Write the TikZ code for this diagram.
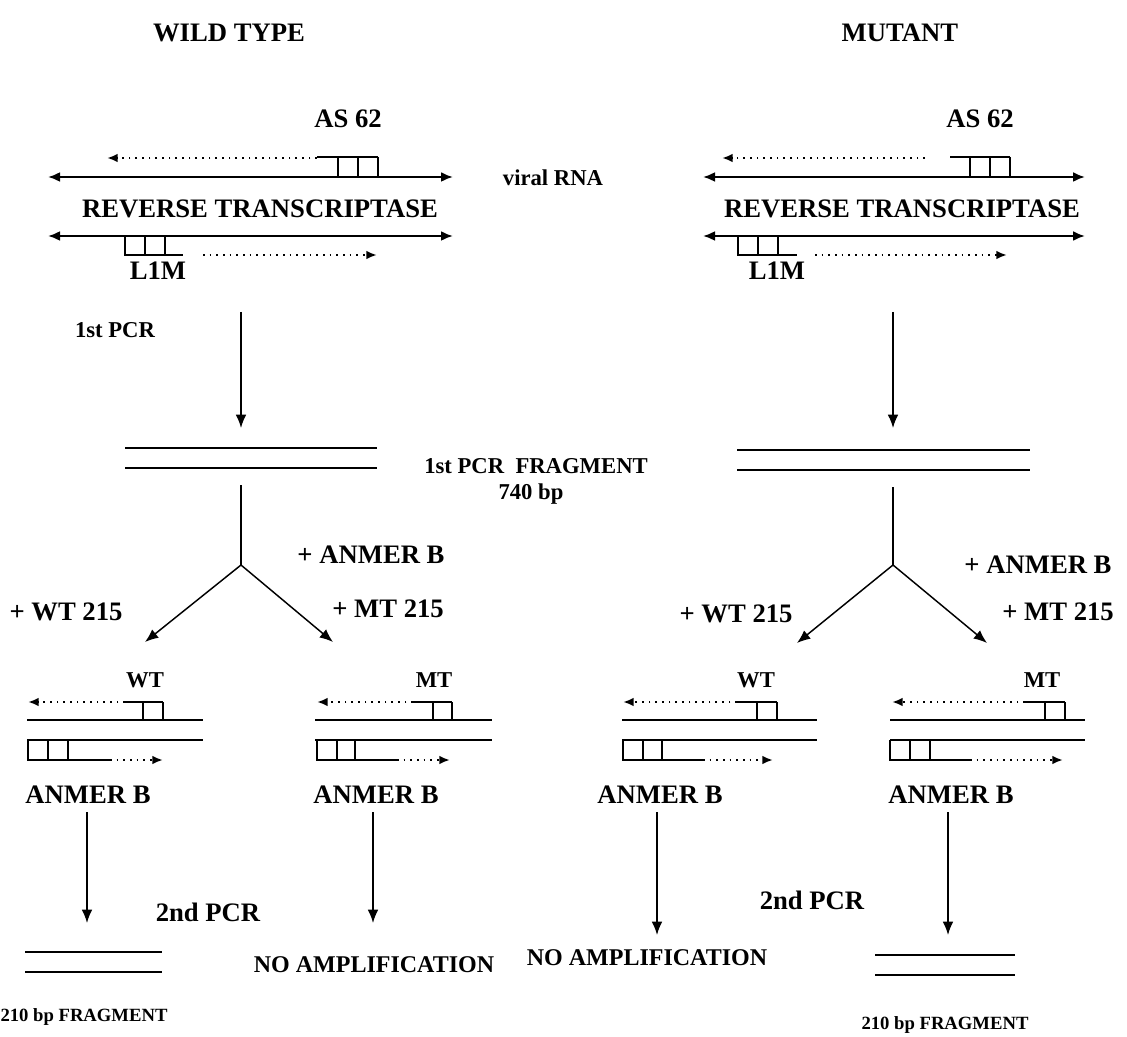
\documentclass[tikz,border=0pt]{standalone}
\usepackage{fontspec}
\setmainfont{Liberation Serif}
\usetikzlibrary{arrows.meta}
\begin{document}
\begin{tikzpicture}[x=0.75pt,y=-0.75pt,
  lbl/.style={font=\fontsize{20}{23}\selectfont\bfseries, inner sep=0pt},
  mid/.style={font=\fontsize{17}{20}\selectfont\bfseries, inner sep=0pt},
  sml/.style={font=\fontsize{14}{17}\selectfont\bfseries, inner sep=0pt},
  dstrand/.style={line width=1.7pt, {Latex[length=9pt,width=7.5pt]}-{Latex[length=9pt,width=7.5pt]}},
  strand/.style={line width=1.7pt},
  primer/.style={line width=1.7pt},
  dots/.style={line width=1.6pt, dash pattern=on 1.3pt off 3.7pt, -{Latex[length=8pt,width=6.5pt]}},
  flow/.style={line width=1.1pt, -{Latex[length=10pt,width=8pt]}},
  split/.style={line width=1.3pt}
]
\useasboundingbox (0,0) rectangle (1127,1037);

% titles
\node[lbl] (wtt) at (229,33) {WILD TYPE};
\node[lbl] (mutt) at (900,33) {MUTANT};

% ---------- top, wild type ----------
\node[lbl] (asA) at (348,119) {AS 62};
\coordinate (tAl) at (48,177); \coordinate (tAr) at (453,177);
\draw[dstrand] (tAl) -- (tAr);
\draw[primer] (317,157) -- (378,157) (338,157) -- (338,177) (358,157) -- (358,177) (378,157) -- (378,177);
\draw[dots] (317,158) -- (107,158);
\node[lbl] (rtA) at (260,209) {REVERSE TRANSCRIPTASE};
\coordinate (bAl) at (48,236); \coordinate (bAr) at (453,236);
\draw[dstrand] (bAl) -- (bAr);
\draw[primer] (125,236) -- (125,255) -- (183,255) (145,236) -- (145,255) (165,236) -- (165,255);
\draw[dots] (203,255) -- (377,255);
\node[lbl] (lmA) at (158,271) {L1M};

% ---------- top, mutant ----------
\node[lbl] (asB) at (980,119) {AS 62};
\coordinate (tBl) at (703,177); \coordinate (tBr) at (1085,177);
\draw[dstrand] (tBl) -- (tBr);
\draw[primer] (950,157) -- (1010,157) (970,157) -- (970,177) (990,157) -- (990,177) (1010,157) -- (1010,177);
\draw[dots] (925,158) -- (722,158);
\node[lbl] (rtB) at (902,209) {REVERSE TRANSCRIPTASE};
\coordinate (bBl) at (703,236); \coordinate (bBr) at (1085,236);
\draw[dstrand] (bBl) -- (bBr);
\draw[primer] (738,236) -- (738,255) -- (797,255) (758,236) -- (758,255) (778,236) -- (778,255);
\draw[dots] (815,255) -- (1007,255);
\node[lbl] (lmB) at (777,271) {L1M};

\node[mid] (rna) at (553,178) {viral RNA};

% ---------- 1st PCR ----------
\node[mid] (pcrA) at (115,330) {1st PCR};
\coordinate (aAs) at (241,312); \coordinate (aAe) at (241,428);
\draw[flow] (aAs) -- (aAe);
\coordinate (aBs) at (893,312); \coordinate (aBe) at (893,428);
\draw[flow] (aBs) -- (aBe);

\draw[strand] (125,448) -- (377,448) (125,468) -- (377,468);
\draw[strand] (737,450) -- (1030,450) (737,470) -- (1030,470);
\node[mid] (frag) at (536,466) {1st PCR\ \ FRAGMENT};
\node[mid] (bp) at (531,494) {740 bp};

% ---------- branching ----------
\coordinate (sA) at (241,485); \coordinate (jA) at (241,565);
\coordinate (eA1) at (145,642); \coordinate (eA2) at (333,642);
\draw[split] (sA) -- (jA);
\draw[flow] (jA) -- (eA1);
\draw[flow] (jA) -- (eA2);
\coordinate (sB) at (893,487); \coordinate (jB) at (893,565);
\coordinate (eB1) at (797,643); \coordinate (eB2) at (987,643);
\draw[split] (sB) -- (jB);
\draw[flow] (jB) -- (eB1);
\draw[flow] (jB) -- (eB2);

\node[lbl] (anA) at (371,555) {+ ANMER B};
\node[lbl] (anB) at (1038,565) {+ ANMER B};
\node[lbl] (wA) at (66,612) {+ WT 215};
\node[lbl] (mA) at (388,609) {+ MT 215};
\node[lbl] (wB) at (736,614) {+ WT 215};
\node[lbl] (mB) at (1058,612) {+ MT 215};

% ---------- second stage columns ----------
% C1
\node[mid] (c1l) at (145,680) {WT};
\draw[strand] (27,720) -- (203,720) (27,740) -- (203,740);
\draw[primer] (125,702) -- (163,702) (143,702) -- (143,720) (163,702) -- (163,720);
\draw[dots] (125,702) -- (28,702);
\draw[primer] (28,740) -- (28,760) -- (110,760) (48,740) -- (48,760) (68,740) -- (68,760);
\draw[dots] (110,760) -- (163,760);
% C2
\node[mid] (c2l) at (434,680) {MT};
\draw[strand] (315,720) -- (492,720) (315,740) -- (492,740);
\draw[primer] (413,702) -- (452,702) (433,702) -- (433,720) (452,702) -- (452,720);
\draw[dots] (413,702) -- (317,702);
\draw[primer] (317,740) -- (317,760) -- (397,760) (337,740) -- (337,760) (355,740) -- (355,760);
\draw[dots] (397,760) -- (450,760);
% C3
\node[mid] (c3l) at (756,680) {WT};
\draw[strand] (622,720) -- (817,720) (622,740) -- (817,740);
\draw[primer] (737,702) -- (777,702) (757,702) -- (757,720) (777,702) -- (777,720);
\draw[dots] (737,702) -- (623,702);
\draw[primer] (623,740) -- (623,760) -- (703,760) (643,740) -- (643,760) (662,740) -- (662,760);
\draw[dots] (703,760) -- (773,760);
% C4
\node[mid] (c4l) at (1042,680) {MT};
\draw[strand] (890,720) -- (1085,720) (890,740) -- (1085,740);
\draw[primer] (1025,702) -- (1065,702) (1045,702) -- (1045,720) (1065,702) -- (1065,720);
\draw[dots] (1025,702) -- (892,702);
\draw[primer] (890,740) -- (890,760) -- (970,760) (910,740) -- (910,760) (930,740) -- (930,760);
\draw[dots] (970,760) -- (1063,760);

\node[lbl] (ab1) at (88,795) {ANMER B};
\node[lbl] (ab2) at (376,795) {ANMER B};
\node[lbl] (ab3) at (660,795) {ANMER B};
\node[lbl] (ab4) at (951,795) {ANMER B};

% ---------- 2nd PCR ----------
\coordinate (f1s) at (87,812); \coordinate (f1e) at (87,923);
\coordinate (f2s) at (373,812); \coordinate (f2e) at (373,923);
\coordinate (f3s) at (657,812); \coordinate (f3e) at (657,935);
\coordinate (f4s) at (948,812); \coordinate (f4e) at (948,935);
\draw[flow] (f1s) -- (f1e);
\draw[flow] (f2s) -- (f2e);
\draw[flow] (f3s) -- (f3e);
\draw[flow] (f4s) -- (f4e);

\node[lbl] (p2A) at (208,912) {2nd PCR};
\node[lbl] (p2B) at (812,900) {2nd PCR};

\draw[strand] (25,952) -- (162,952) (25,972) -- (162,972);
\draw[strand] (875,955) -- (1015,955) (875,975) -- (1015,975);
\node[font=\fontsize{18}{21}\selectfont\bfseries, inner sep=0pt] (na1) at (374,965) {NO AMPLIFICATION};
\node[font=\fontsize{18}{21}\selectfont\bfseries, inner sep=0pt] (na2) at (647,958) {NO AMPLIFICATION};
\node[sml] (fr1) at (84,1017) {210 bp FRAGMENT};
\node[sml] (fr2) at (945,1025) {210 bp FRAGMENT};
\end{tikzpicture}
\end{document}
